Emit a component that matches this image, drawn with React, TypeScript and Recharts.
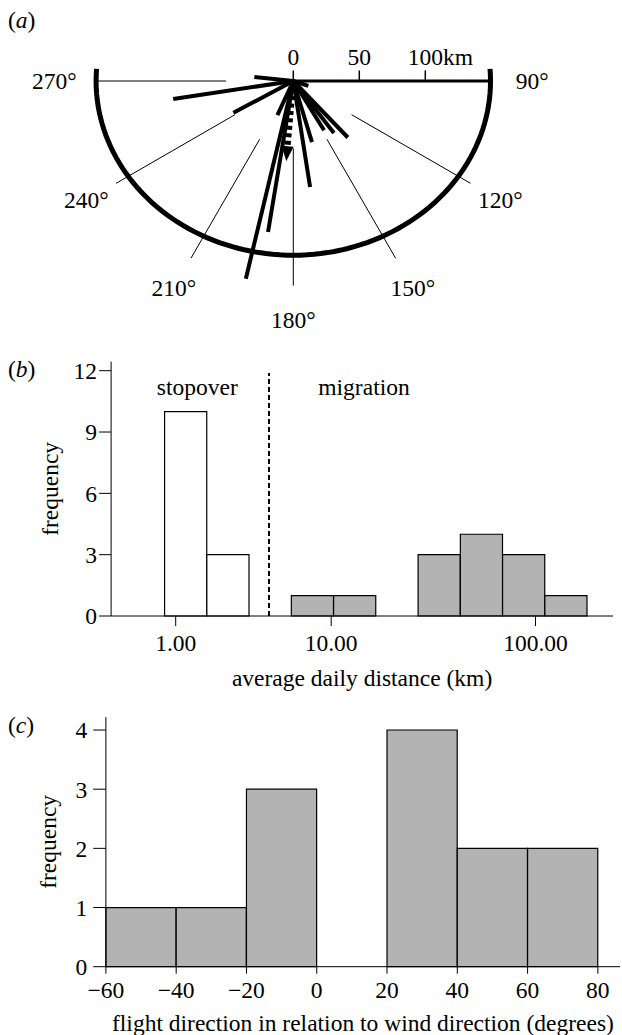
import { Bar, Cell, ComposedChart, ReferenceDot, ReferenceLine, Scatter, XAxis, YAxis } from 'recharts';

const FONT = '"Liberation Serif", "Times New Roman", serif';
const FS = 23.5;
const GREY = '#b3b3b3';

// (a) individual trips: bearing (deg from north) and straight distance (km)
const tripBearings = [276, 261.5, 242, 108, 136, 142, 148, 163, 171, 189.5, 193.5, 205];
const tripDistances = [29.7, 92, 51.4, 12, 59.5, 50, 44, 48.4, 81.3, 116, 154, 28.5];
const meanBearing = 185;
const meanDistance = 61;
const compassLabels = [90, 120, 150, 180, 210, 240, 270];
const guideBearings = [120, 150, 180, 210, 240, 270];
const scaleTicks = [0, 50, 100];

// (b) average daily distance histogram (equal-width log bins)
const distBins = [0, 1, 2, 3, 4, 5, 6, 7, 8, 9];
const distCounts = [10, 3, 0, 1, 1, 0, 3, 4, 3, 1];
const distPhase = ['stopover', 'stopover', 'stopover', 'migration', 'migration', 'migration', 'migration', 'migration', 'migration', 'migration'];
const distTickPos = [0.263, 3.943, 8.779];
const distTickLabels = ['1.00', '10.00', '100.00'];
const freqTicksB = [0, 3, 6, 9, 12];

// (c) flight direction relative to wind
const windBins = [-60, -40, -20, 0, 20, 40, 60];
const windCounts = [1, 1, 3, 0, 4, 2, 2];
const windTicks = [-60, -40, -20, 0, 20, 40, 60, 80];
const freqTicksC = [0, 1, 2, 3, 4];

const textStyle = { fontFamily: FONT, fontSize: FS, fill: '#000' };

const toXY = (bearing: number, dist: number) => {
  const r = (bearing * Math.PI) / 180;
  return { x: dist * Math.sin(r), y: dist * Math.cos(r) };
};

const pointText = (text: string, dx = 0, anchor: 'start' | 'middle' | 'end' = 'middle') => (props: any) => {
  const vb = props.viewBox ?? {};
  const x = (vb.x ?? vb.cx ?? 0) + (vb.width ?? 0) / 2 + dx;
  const y = (vb.y ?? vb.cy ?? 0) + (vb.height ?? 0) / 2;
  return (
    <text x={x} y={y} textAnchor={anchor} dominantBaseline="central" style={textStyle}>
      {text}
    </text>
  );
};

const xTitle = (text: string, dy: number) => (props: any) => {
  const vb = props.viewBox ?? {};
  return (
    <text x={vb.x + vb.width / 2} y={vb.y + dy} textAnchor="middle" dominantBaseline="central" style={textStyle}>
      {text}
    </text>
  );
};

const yTitle = (text: string, x: number) => (props: any) => {
  const vb = props.viewBox ?? {};
  const cx = (vb.x ?? 0) + x;
  const cy = vb.y + vb.height / 2;
  return (
    <text x={cx} y={cy} transform={`rotate(-90 ${cx} ${cy})`} textAnchor="middle" dominantBaseline="central" style={textStyle}>
      {text}
    </text>
  );
};

const noShape = () => <g />;

// ---------- panel (a) ----------
const A_W = 622;
const A_H = 335;
const CX = 293.3;
const CY = 81;
const PX = 1.32; // px per km
const ARC_RX = 149.4;
const ARC_RY = 132;
const arcPoints = Array.from({ length: 95 }, (_, i) => {
  const t = ((86 + i * 2) * Math.PI) / 180;
  return { x: ARC_RX * Math.sin(t), y: ARC_RY * Math.cos(t) };
});

const arrowShape = (props: any) => {
  const { cx, cy } = props;
  const r = (meanBearing * Math.PI) / 180;
  const ux = Math.sin(r);
  const uy = -Math.cos(r);
  const L = 15;
  const W = 6;
  const bx = cx - ux * L;
  const by = cy - uy * L;
  return <polygon points={`${cx},${cy} ${bx - uy * W},${by + ux * W} ${bx + uy * W},${by - ux * W}`} fill="#000" />;
};

const PanelA = () => {
  const meanTip = toXY(meanBearing, meanDistance);
  const meanBase = toXY(meanBearing, meanDistance - 14 / PX);
  return (
    <ComposedChart width={A_W} height={A_H} margin={{ top: 0, right: 0, bottom: 0, left: 0 }}>
      <XAxis type="number" dataKey="x" hide domain={[-CX / PX, (A_W - CX) / PX]} />
      <YAxis type="number" dataKey="y" hide domain={[-(A_H - CY) / PX, CY / PX]} />
      {guideBearings.map((b) => (
        <ReferenceLine
          key={`g${b}`}
          segment={[toXY(b, 51), toXY(b, b === 270 ? 150 : 155)]}
          stroke="#000"
          strokeWidth={1}
          ifOverflow="visible"
        />
      ))}
      <Scatter data={arcPoints} line={{ stroke: '#000', strokeWidth: 5 }} lineType="joint" shape={noShape} isAnimationActive={false} />
      <ReferenceLine segment={[{ x: 0, y: 0 }, { x: ARC_RX, y: 0 }]} stroke="#000" strokeWidth={3} ifOverflow="visible" />
      {scaleTicks.map((t) => (
        <ReferenceLine key={`t${t}`} segment={[{ x: t, y: 0 }, { x: t, y: 8 }]} stroke="#000" strokeWidth={1.5} ifOverflow="visible" />
      ))}
      {scaleTicks.map((t) => (
        <ReferenceDot
          key={`tl${t}`}
          x={t}
          y={18.2}
          r={0}
          fill="none"
          stroke="none"
          ifOverflow="visible"
          label={t === 100 ? pointText('100km', -17.6, 'start') : pointText(String(t))}
        />
      ))}
      {tripBearings.map((b, i) => (
        <Scatter
          key={`v${i}`}
          data={[{ x: 0, y: 0 }, toXY(b, tripDistances[i])]}
          line={{ stroke: '#000', strokeWidth: 4 }}
          lineType="joint"
          shape={noShape}
          isAnimationActive={false}
        />
      ))}
      <Scatter
        data={[{ x: 0, y: 0 }, meanBase]}
        line={{ stroke: '#000', strokeWidth: 6, strokeDasharray: '4 3.5' }}
        lineType="joint"
        shape={noShape}
        isAnimationActive={false}
      />
      <Scatter data={[meanTip]} shape={arrowShape} isAnimationActive={false} />
      {compassLabels.map((b) => {
        const p = toXY(b, 181);
        return (
          <ReferenceDot key={`c${b}`} x={p.x} y={p.y} r={0} fill="none" stroke="none" ifOverflow="visible" label={pointText(`${b}°`)} />
        );
      })}
    </ComposedChart>
  );
};

// ---------- panel (b) ----------
const B_BIN_PX = 42.25;
const distData = distBins.map((b, i) => ({ bin: b + 0.5, count: distCounts[i], phase: distPhase[i] }));

const PanelB = () => (
  <ComposedChart
    width={622}
    height={370}
    data={distData}
    margin={{ top: 31.7, right: 9, bottom: 24, left: 0 }}
    barCategoryGap={0}
    barGap={0}
  >
    <XAxis
      type="number"
      dataKey="bin"
      domain={[-1.266, 10.613]}
      ticks={distTickPos}
      tickFormatter={(v: number) => distTickLabels[distTickPos.indexOf(v)] ?? ''}
      height={60}
      stroke="#000"
      tickSize={10}
      tickMargin={8}
      tick={{ fill: '#000', fontSize: FS, fontFamily: FONT }}
      label={xTitle('average daily distance (km)', 62)}
    />
    <YAxis
      type="number"
      domain={[0, 12.44]}
      ticks={freqTicksB}
      width={111.1}
      stroke="#000"
      tickSize={12}
      tickMargin={2}
      tick={{ fill: '#000', fontSize: FS, fontFamily: FONT }}
      label={yTitle('frequency', 49.6)}
    />
    <Bar dataKey="count" barSize={B_BIN_PX - 0.1} stroke="#000" strokeWidth={1.2} isAnimationActive={false}>
      {distData.map((d) => (
        <Cell key={d.bin} fill={d.phase === 'stopover' ? '#fff' : GREY} />
      ))}
    </Bar>
    <ReferenceLine
      segment={[{ x: 2.471, y: 0 }, { x: 2.471, y: 11.89 }]}
      stroke="#000"
      strokeWidth={2}
      strokeDasharray="5 3"
    />
    <ReferenceDot x={0.774} y={11.2} r={0} fill="none" stroke="none" label={pointText('stopover')} />
    <ReferenceDot x={4.72} y={11.2} r={0} fill="none" stroke="none" label={pointText('migration')} />
  </ComposedChart>
);

// ---------- panel (c) ----------
const C_BIN_PX = 70.27;
const windData = windBins.map((b, i) => ({ mid: b + 10, count: windCounts[i] }));

const PanelC = () => (
  <ComposedChart
    width={622}
    height={335}
    data={windData}
    margin={{ top: 17, right: 2, bottom: 13.3, left: 0 }}
    barCategoryGap={0}
    barGap={0}
  >
    <XAxis
      type="number"
      dataKey="mid"
      domain={[-60, 86.3]}
      ticks={windTicks}
      tickFormatter={(v: number) => (v < 0 ? `\u2212${-v}` : `${v}`)}
      height={55}
      stroke="#000"
      tickSize={7}
      tickMargin={7.6}
      tick={{ fill: '#000', fontSize: FS, fontFamily: FONT }}
      label={xTitle('flight direction in relation to wind direction (degrees)', 56.3)}
    />
    <YAxis
      type="number"
      domain={[0, 4.22]}
      ticks={freqTicksC}
      width={105.9}
      stroke="#000"
      tickSize={12.7}
      tickMargin={6}
      tick={{ fill: '#000', fontSize: FS, fontFamily: FONT }}
      label={yTitle('frequency', 47.6)}
    />
    <Bar dataKey="count" barSize={C_BIN_PX - 0.1} fill={GREY} stroke="#000" strokeWidth={1.2} isAnimationActive={false} />
  </ComposedChart>
);

const letter = (ch: string, top: number) => (
  <div style={{ position: 'absolute', left: 8, top, transform: 'translateY(-50%)', lineHeight: 1, fontFamily: FONT, fontSize: FS }}>
    (<i>{ch}</i>)
  </div>
);

export default function App() {
  return (
    <div style={{ position: 'absolute', left: 0, top: 0, width: 622, height: 1035, background: '#fff' }}>
      <div style={{ position: 'absolute', left: 0, top: 0 }}>
        <PanelA />
      </div>
      <div style={{ position: 'absolute', left: 0, top: 330 }}>
        <PanelB />
      </div>
      <div style={{ position: 'absolute', left: 0, top: 700 }}>
        <PanelC />
      </div>
      {letter('a', 21)}
      {letter('b', 370)}
      {letter('c', 726)}
    </div>
  );
}
